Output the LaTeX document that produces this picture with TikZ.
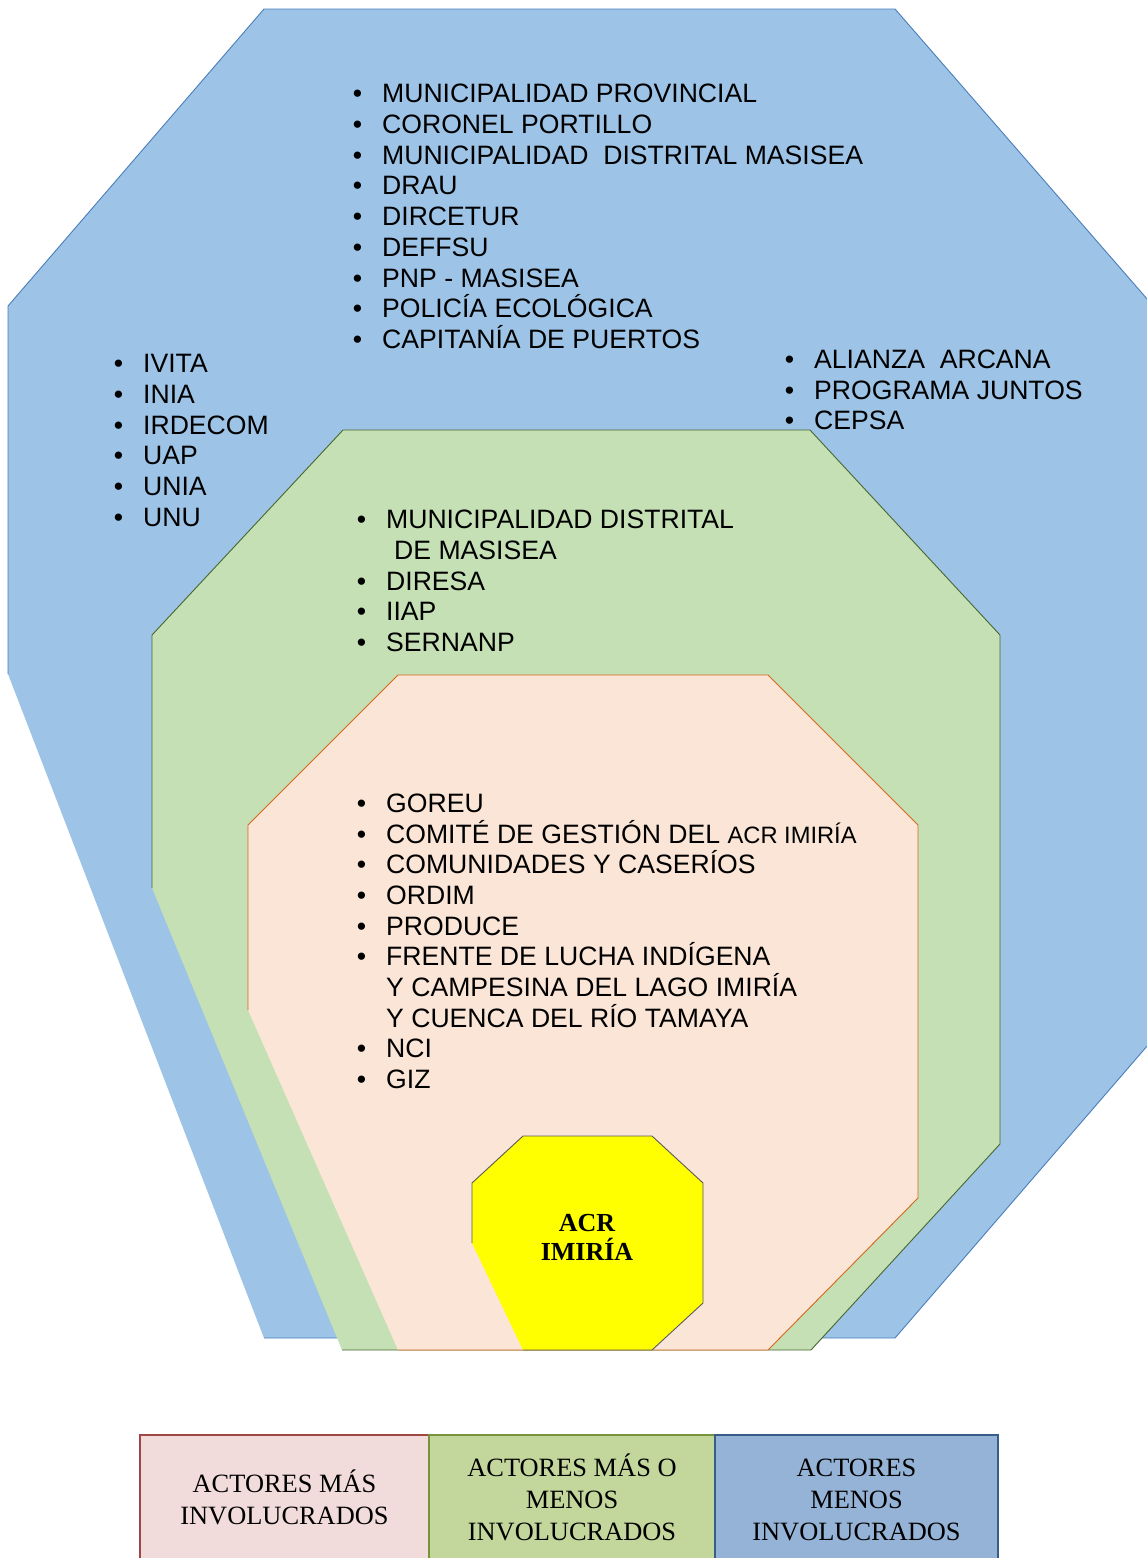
\documentclass[tikz,border=0pt]{standalone}
\usepackage{fontspec}
\setmainfont{Liberation Sans}
\newfontfamily\timesf{Liberation Serif}
\definecolor{blueF}{HTML}{9DC3E6}
\definecolor{blueD}{HTML}{4A7EBB}
\definecolor{greenF}{HTML}{C5E0B4}
\definecolor{greenD}{HTML}{48672E}
\definecolor{peachF}{HTML}{FBE5D6}
\definecolor{peachD}{HTML}{D5661A}
\definecolor{yelF}{HTML}{FFFF00}
\definecolor{yelD}{HTML}{5A5A5A}
\definecolor{legAF}{HTML}{F2DCDB}
\definecolor{legAD}{HTML}{A04644}
\definecolor{legBF}{HTML}{C3D69B}
\definecolor{legBD}{HTML}{77933C}
\definecolor{legCF}{HTML}{95B3D7}
\definecolor{legCD}{HTML}{385D8A}
\newcommand\bul{\llap{\textbullet\hspace{20pt}}}
\begin{document}
\begin{tikzpicture}[x=1pt,y=-1pt,
  item/.style={anchor=base west, inner sep=0pt, font=\fontsize{26.6}{30}\selectfont},
  edge/.style={line width=0.9pt, line join=miter},
  legbox/.style={inner sep=0pt, line width=2pt, minimum width=#1, minimum height=130pt},
  legtext/.style={inner sep=0pt, align=center, font=\timesf\fontsize{26.4}{32}\selectfont}]
\useasboundingbox (0,0) rectangle (1147,1558);
\clip (0,0) rectangle (1147,1558);
% blue
\fill[blueF] (264,9) -- (895,9) -- (1148,300) -- (1148,1045) -- (895,1338) -- (264,1338) -- (8,674) -- (8,306) -- cycle;
\draw[edge, blueD] (8,674) -- (8,306) -- (264,9) -- (895,9) -- (1148,300) -- (1148,1045) -- (895,1338) -- (264,1338);
% green
\fill[greenF] (343,430) -- (810,430) -- (1000,635) -- (1000,1144) -- (811,1350) -- (342,1350) -- (152,888) -- (152,635) -- cycle;
\draw[edge, greenD] (152,888) -- (152,635) -- (343,430) -- (810,430) -- (1000,635) -- (1000,1144) -- (811,1350) -- (342,1350);
% peach
\fill[peachF] (398,675) -- (768,675) -- (918,825) -- (918,1198) -- (768,1350) -- (398,1350) -- (248,1010) -- (248,825) -- cycle;
\draw[edge, peachD] (248,1010) -- (248,825) -- (398,675) -- (768,675) -- (918,825) -- (918,1198) -- (768,1350) -- (398,1350);
% yellow
\fill[yelF] (523,1136) -- (652,1136) -- (703,1183) -- (703,1303) -- (652,1350) -- (523,1350) -- (472,1243) -- (472,1183) -- cycle;
\draw[edge, yelD] (472,1243) -- (472,1183) -- (523,1136) -- (652,1136) -- (703,1183) -- (703,1303) -- (652,1350) -- (523,1350);
\node[font=\timesf\bfseries\fontsize{26}{29}\selectfont, align=center, inner sep=0pt] (acr) at (587,1237) {ACR\\IMIRÍA};
% blue top list
\foreach \t [count=\i from 0] in {MUNICIPALIDAD PROVINCIAL, CORONEL PORTILLO, MUNICIPALIDAD\ \ DISTRITAL MASISEA, DRAU, DIRCETUR, DEFFSU, PNP - MASISEA, POLICÍA ECOLÓGICA, CAPITANÍA DE PUERTOS}
  \node[item] (top\i) at (382,{102.5+\i*30.75}) {\bul\t};
% left list
\foreach \t [count=\i from 0] in {IVITA, INIA, IRDECOM, UAP, UNIA, UNU}
  \node[item] (left\i) at (143,{372.5+\i*30.8}) {\bul\t};
% right list
\foreach \t [count=\i from 0] in {ALIANZA\ \ ARCANA, PROGRAMA JUNTOS, CEPSA}
  \node[item] (right\i) at (814,{368.5+\i*30.6}) {\bul\t};
% green list
\node[item] (g0) at (386,528.5) {\bul MUNICIPALIDAD DISTRITAL};
\node[item] (g1) at (394,559.25) {DE MASISEA};
\foreach \t [count=\i from 2] in {DIRESA, IIAP, SERNANP}
  \node[item] (g\i) at (386,{528.5+\i*30.75}) {\bul\t};
% peach list
\foreach \b/\t [count=\i from 0] in {1/GOREU, 1/{COMITÉ DE GESTIÓN DEL {\fontsize{23.7}{26}\selectfont ACR IMIRÍA}}, 1/COMUNIDADES Y CASERÍOS, 1/ORDIM, 1/PRODUCE, 1/FRENTE DE LUCHA INDÍGENA, 0/Y CAMPESINA DEL LAGO IMIRÍA, 0/Y CUENCA DEL RÍO TAMAYA, 1/NCI, 1/GIZ}
  \node[item] (p\i) at (386,{812.5+\i*30.67}) {\ifnum\b=1 \bul\fi\t};
% legend
\node[legbox=289pt, fill=legAF, draw=legAD] (legA) at (284.5,1500) {};
\node[legbox=286pt, fill=legBF, draw=legBD] (legB) at (572,1500) {};
\node[legbox=283pt, fill=legCF, draw=legCD] (legC) at (856.5,1500) {};
\node[legtext] (legAt) at (284.5,1497) {ACTORES MÁS\\INVOLUCRADOS};
\node[legtext] (legBt) at (572,1497) {ACTORES MÁS O\\MENOS\\INVOLUCRADOS};
\node[legtext] (legCt) at (856.5,1499.5) {ACTORES\\MENOS\\INVOLUCRADOS};
\end{tikzpicture}
\end{document}
